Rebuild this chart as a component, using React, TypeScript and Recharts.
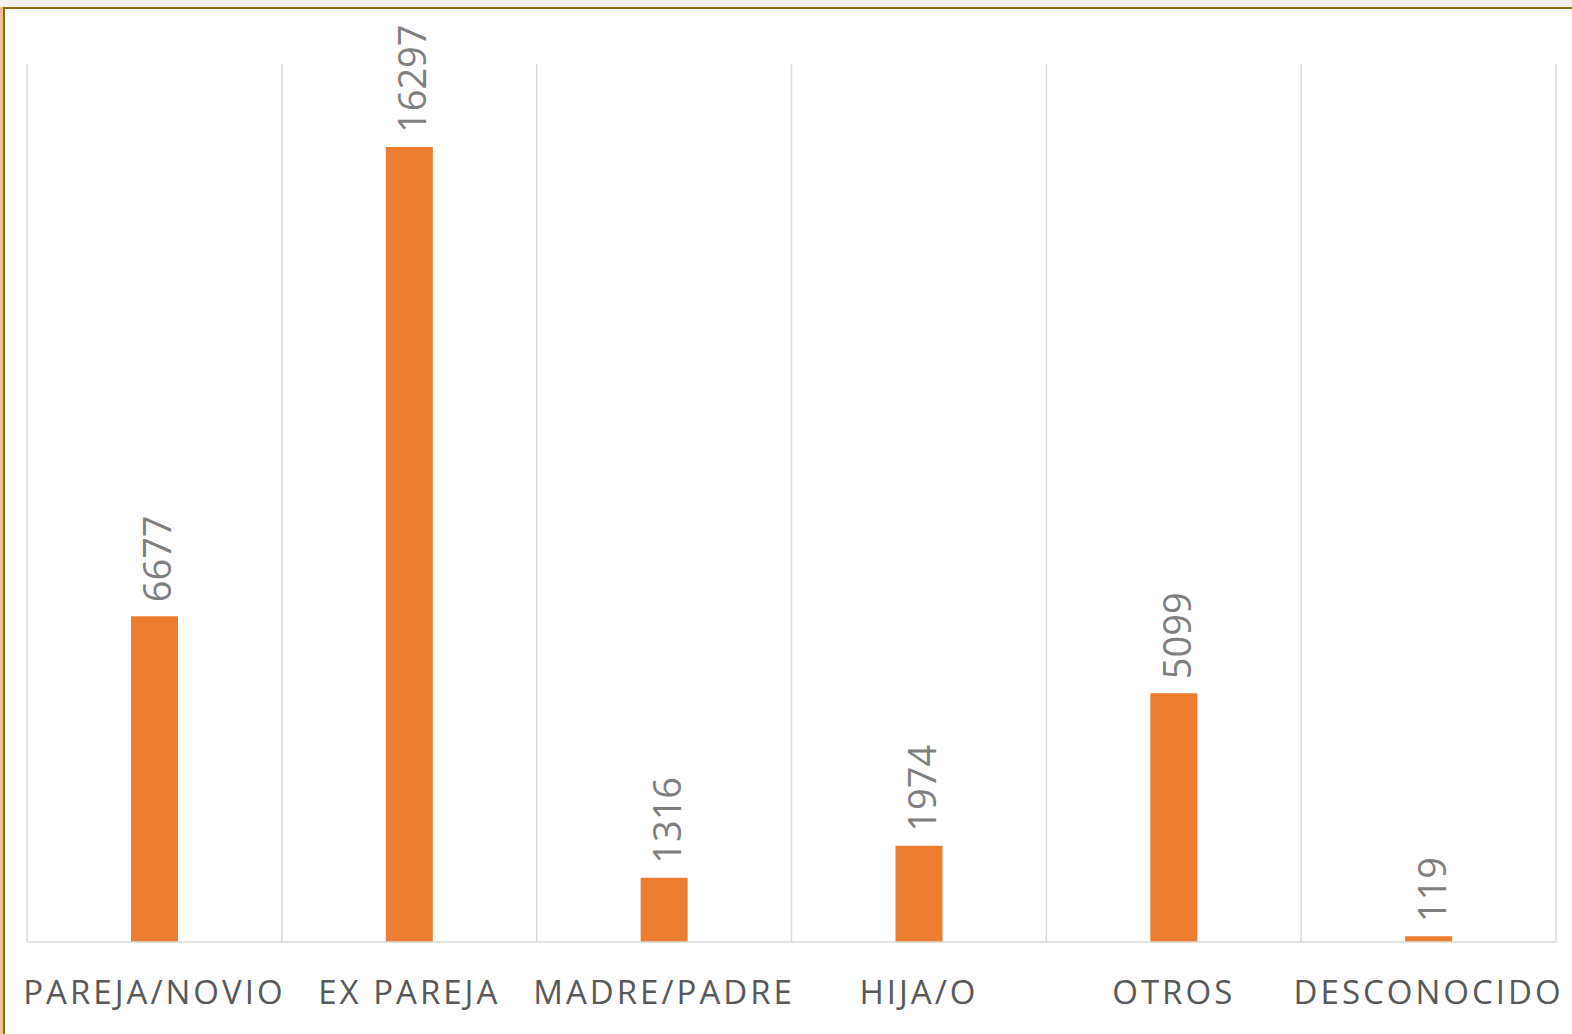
import { Bar, BarChart, CartesianGrid, LabelList, XAxis, YAxis } from "recharts"

const categories = ["PAREJA/NOVIO", "EX PAREJA", "MADRE/PADRE", "HIJA/O", "OTROS", "DESCONOCIDO"]
const values = [6677, 16297, 1316, 1974, 5099, 119]
const yDomain = [0, 18000]

const data = categories.map((name, i) => ({ name, value: values[i] }))

const CategoryTick = (props: any) => {
  const { x, y, payload } = props
  return (
    <text
      x={x}
      y={y + 54}
      textAnchor="middle"
      fill="#595959"
      fontSize={33}
      fontFamily="'Open Sans', sans-serif"
      letterSpacing={3}
    >
      {payload.value}
    </text>
  )
}

const ValueLabel = (props: any) => {
  const { x, y, width, value } = props
  const cx = x + width / 2 + 2
  const cy = y - 14
  return (
    <text
      x={cx}
      y={cy}
      transform={`rotate(-90 ${cx} ${cy})`}
      textAnchor="start"
      dominantBaseline="central"
      fill="#7f7f7f"
      fontSize={38}
      fontFamily="'Open Sans', sans-serif"
    >
      {value}
    </text>
  )
}

export default function App() {
  return (
    <div style={{ position: "absolute", left: 0, top: 0, width: 1572, height: 1034, background: "#f6f0ec" }}>
      <div style={{ position: "absolute", left: 0, top: 7, width: 3, height: 1027, background: "#eebd8e" }} />
      <div
        style={{
          position: "absolute",
          left: 3,
          top: 7,
          width: 1569,
          height: 1027,
          background: "#ffffff",
          borderLeft: "2px solid #8b6c0e",
          borderTop: "2px solid #8b6c0e",
          boxSizing: "border-box",
        }}
      />
      <div style={{ position: "absolute", left: 0, top: 0 }}>
        <BarChart
          width={1572}
          height={1034}
          data={data}
          margin={{ top: 64, right: 16, bottom: 0, left: 27 }}
        >
          <CartesianGrid
            horizontal={false}
            stroke="#d9d9d9"
            strokeWidth={1.5}
            verticalCoordinatesGenerator={({ offset }: any) =>
              categories.map((_, i) => offset.left + (i * offset.width) / categories.length).concat(offset.left + offset.width)
            }
          />
          <XAxis
            dataKey="name"
            height={92}
            tickLine={false}
            axisLine={{ stroke: "#d9d9d9", strokeWidth: 1.5 }}
            tick={<CategoryTick />}
            interval={0}
          />
          <YAxis hide domain={yDomain} />
          <Bar dataKey="value" fill="#ed7d31" barSize={47} isAnimationActive={false}>
            <LabelList dataKey="value" content={<ValueLabel />} />
          </Bar>
        </BarChart>
      </div>
    </div>
  )
}
